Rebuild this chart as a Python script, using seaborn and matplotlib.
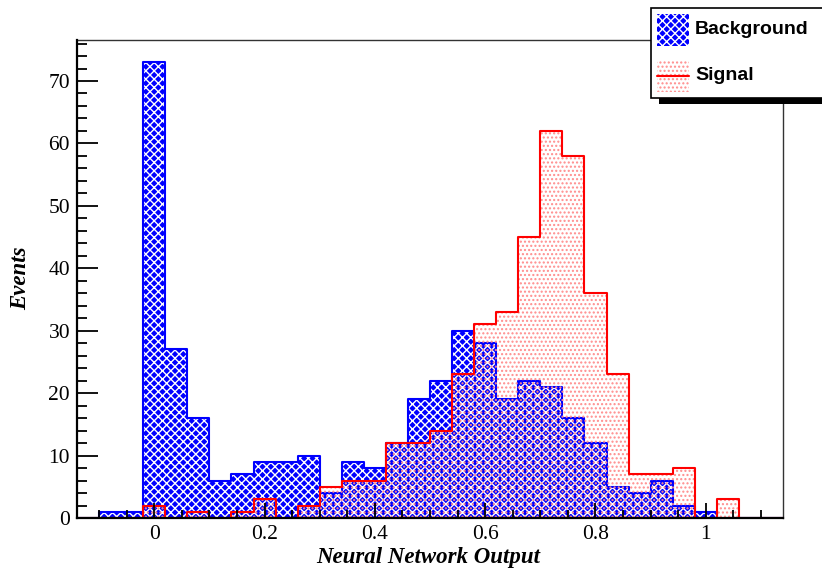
import numpy as np
import pandas as pd
import matplotlib
matplotlib.use("Agg")
import matplotlib.pyplot as plt
from matplotlib.patches import Rectangle
from matplotlib.lines import Line2D
from matplotlib.ticker import MultipleLocator
import seaborn as sns

# ---- data ----
bin_edges = [round(-0.14 + 0.04 * i, 2) for i in range(33)]
bin_centers = [round(-0.12 + 0.04 * i, 2) for i in range(32)]
background = [0, 1, 1, 73, 27, 16, 6, 7, 9, 9, 10, 4, 9, 8, 12, 19,
              22, 30, 28, 19, 22, 21, 16, 12, 5, 4, 6, 2, 1, 0, 0, 0]
signal = [0, 0, 0, 2, 0, 1, 0, 1, 3, 0, 2, 5, 6, 6, 12, 12,
          14, 23, 31, 33, 45, 62, 58, 36, 23, 7, 7, 8, 0, 3, 0, 0]
x_ticks = [0, 0.2, 0.4, 0.6, 0.8, 1]
x_ticklabels = ["0", "0.2", "0.4", "0.6", "0.8", "1"]
y_ticks = [0, 10, 20, 30, 40, 50, 60, 70]
legend_labels = ["Background", "Signal"]
x_label = "Neural Network Output"
y_label = "Events"

df = pd.DataFrame({"x": bin_centers, "bkg": background, "sig": signal})

sns.set_style("white")
plt.rcParams["font.family"] = ["Liberation Serif", "DejaVu Serif"]
plt.rcParams["hatch.linewidth"] = 1.0
plt.rcParams["axes.axisbelow"] = False
for k in ["text.color", "axes.labelcolor", "xtick.color", "ytick.color"]:
    plt.rcParams[k] = "black"

W, H = 822, 571
fig = plt.figure(figsize=(W / 100, H / 100), dpi=100)
L, R, T, B = 77, 783, 39.5, 518
ax = fig.add_axes([L / W, 1 - B / H, (R - L) / W, (B - T) / H])

BLUE = "#0000ff"
RED = "#ff0000"
PINK = "#ff8c8c"

# background fill (blue with white pattern)
sns.histplot(data=df, x="x", weights="bkg", bins=bin_edges, element="bars",
             facecolor=BLUE, edgecolor="white", linewidth=0, hatch="xxxx",
             ax=ax, zorder=1)
# background outline
sns.histplot(data=df, x="x", weights="bkg", bins=bin_edges, element="step",
             fill=False, color=BLUE, linewidth=1.5, ax=ax, zorder=2)
# signal fill (dotted)
sns.histplot(data=df, x="x", weights="sig", bins=bin_edges, element="bars",
             facecolor="none", edgecolor=PINK, linewidth=0, hatch="....",
             ax=ax, zorder=3)
# signal outline
sns.histplot(data=df, x="x", weights="sig", bins=bin_edges, element="step",
             fill=False, color=RED, linewidth=1.5, ax=ax, zorder=4)

ax.set_xlim(-0.14, 1.14)
ax.set_ylim(0, 1.05 * max(background))

ax.set_xticks(x_ticks)
ax.set_xticklabels(x_ticklabels)
ax.set_yticks(y_ticks)
ax.xaxis.set_minor_locator(MultipleLocator(0.05))
ax.yaxis.set_minor_locator(MultipleLocator(2))

ax.tick_params(axis="both", which="both", direction="in", colors="black",
               labelsize=15.5, width=1.3, top=False, right=False,
               bottom=True, left=True)
ax.tick_params(axis="x", which="major", length=10.8, pad=5)
ax.tick_params(axis="x", which="minor", length=5.5)
ax.tick_params(axis="y", which="major", length=15, pad=5)
ax.tick_params(axis="y", which="minor", length=7.3)
ax.xaxis.set_zorder(6)
ax.yaxis.set_zorder(6)

for s in ["left", "bottom"]:
    ax.spines[s].set_linewidth(1.6)
    ax.spines[s].set_color("black")
    ax.spines[s].set_zorder(7)
for s in ["top", "right"]:
    ax.spines[s].set_linewidth(1.0)
    ax.spines[s].set_color("#333333")

lab_font = dict(family=["Liberation Serif", "DejaVu Serif"], weight="bold",
                style="italic", size=16.5, color="black")
ax.set_xlabel(x_label, **lab_font)
ax.set_ylabel(y_label, **lab_font)
ax.xaxis.label.set_va("center")
ax.yaxis.label.set_va("center")
ax.xaxis.set_label_coords((428 - L) / (R - L), (B - 557) / (B - T))
ax.yaxis.set_label_coords((21 - L) / (R - L), 0.5)


# ---- legend (drawn manually, ROOT style with shadow) ----
def fx(x):
    return x / W


def fy(y):
    return 1 - y / H


tf = fig.transFigure
lx0, ly0, lx1, ly1 = 651, 8, 835, 98
fig.add_artist(Rectangle((fx(lx0 + 8), fy(ly1 + 6)), fx(lx1 - lx0), (ly1 - ly0) / H,
                         transform=tf, facecolor="black", edgecolor="none", zorder=10))
fig.add_artist(Rectangle((fx(lx0), fy(ly1)), fx(lx1 - lx0), (ly1 - ly0) / H,
                         transform=tf, facecolor="white", edgecolor="black",
                         linewidth=1.2, zorder=11))
# background symbol
fig.add_artist(Rectangle((fx(657), fy(46)), fx(32), 32 / H, transform=tf,
                         facecolor=BLUE, edgecolor="white", linewidth=0,
                         hatch="xxxx", zorder=12))
# signal symbol
fig.add_artist(Rectangle((fx(657), fy(92)), fx(32), 32 / H, transform=tf,
                         facecolor="white", edgecolor=PINK, linewidth=0,
                         hatch="....", zorder=12))
fig.add_artist(Line2D([fx(657), fx(689)], [fy(76), fy(76)], transform=tf,
                      color=RED, linewidth=1.5, zorder=13))
leg_font = dict(family=["Liberation Sans", "DejaVu Sans"], weight="bold", size=14,
                color="black")
fig.text(fx(695), fy(30), legend_labels[0], ha="left", va="center", zorder=13, **leg_font)
fig.text(fx(695), fy(75), legend_labels[1], ha="left", va="center", zorder=13, **leg_font)

fig.savefig("out.png", dpi=100)
